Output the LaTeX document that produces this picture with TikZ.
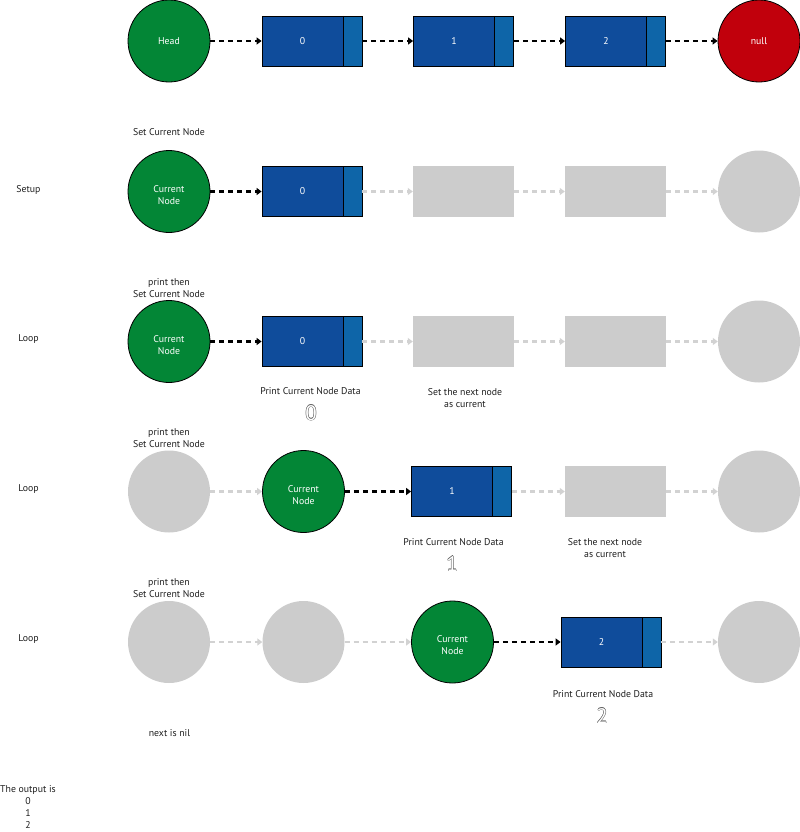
\documentclass[tikz,border=0pt]{standalone}
\usepackage{fontspec}
\setmainfont{PT Sans}
\usetikzlibrary{arrows.meta}
\definecolor{cgreen}{RGB}{3,134,54}
\definecolor{cdblue}{RGB}{15,76,155}
\definecolor{clblue}{RGB}{14,101,168}
\definecolor{cred}{RGB}{193,0,12}
\definecolor{cgrey}{RGB}{204,204,204}
\definecolor{carrgrey}{RGB}{210,210,210}
\definecolor{ctext}{RGB}{30,30,30}
\definecolor{coutl}{RGB}{90,90,90}
\newcommand\smallfnt{\fontsize{9.8bp}{12bp}\selectfont}
\newcommand\hollowdigit[1]{\fontsize{21bp}{21bp}\selectfont\leavevmode
 \rlap{\color{coutl}\kern-.5bp #1}\rlap{\color{coutl}\kern.5bp #1}%
 \rlap{\color{coutl}\raisebox{.5bp}{#1}}\rlap{\color{coutl}\raisebox{-.5bp}{#1}}%
 {\color{white}#1}}
\tikzset{
 lnode/.style={circle, minimum size=82bp, inner sep=0pt, text=white, align=center, font=\smallfnt},
 gcirc/.style={lnode, fill=cgrey},
 ccirc/.style={lnode, fill=cgreen, draw=black, line width=0.8bp},
 curcirc/.style={ccirc, label={[text=white, font=\smallfnt, align=center, inner sep=0pt, yshift=-3.5bp]center:{Current\\Node}}},
 rcirc/.style={lnode, fill=cred, draw=black, line width=0.8bp},
 bbox/.style={rectangle, minimum width=100bp, minimum height=50bp, inner sep=0pt,
   draw=black, line width=0.8bp, fill=cdblue, text=white, font=\smallfnt,
   execute at end node={\hspace*{19bp}},
   path picture={\fill[clblue] ([xshift=-19bp]path picture bounding box.north east) rectangle (path picture bounding box.south east);
     \draw[black,line width=0.8bp] ([xshift=-19bp]path picture bounding box.north east) -- ([xshift=-19bp]path picture bounding box.south east);}},
 gbox/.style={rectangle, minimum width=101bp, minimum height=51bp, inner sep=0pt, fill=cgrey},
 arr/.style={-{Triangle[length=5bp,width=7bp]}, dash pattern=on 5bp off 4bp, line width=2.8bp, black},
 garr/.style={arr, carrgrey},
 lbl/.style={text=ctext, font=\smallfnt, align=center, inner sep=0pt, yshift=-1.5bp},
 big/.style={inner sep=0pt},
}
\begin{document}
\begin{tikzpicture}[x=1bp,y=-1bp]
\useasboundingbox (0,0) rectangle (800,832);
% row 0
\node[ccirc] (h) at (169,41) {Head};
\node[bbox] (a0) at (312,41) {0};
\node[bbox] (a1) at (463.5,41) {1};
\node[bbox] (a2) at (615.5,41) {2};
\node[rcirc] (nl) at (759,41) {null};
\draw[arr] (h) -- (a0);
\draw[arr] (a0) -- (a1);
\draw[arr] (a1) -- (a2);
\draw[arr] (a2) -- (nl);
% row 1
\node[lbl] (t1) at (169,131) {Set Current Node};
\node[lbl] (s1) at (28.5,188) {Setup};
\node[curcirc] (c1) at (169,191.5) {};
\node[bbox] (b10) at (312,191.5) {0};
\node[gbox] (b11) at (463.5,191.5) {};
\node[gbox] (b12) at (615.5,191.5) {};
\node[gcirc] (b13) at (759,191.5) {};
\draw[arr] (c1) -- (b10);
\draw[garr] (b10) -- (b11);
\draw[garr] (b11) -- (b12);
\draw[garr] (b12) -- (b13);
% row 2
\node[lbl] (t2) at (169,287) {print then\\Set Current Node};
\node[lbl] (s2) at (28.5,338) {Loop};
\node[curcirc] (c2) at (169,341.5) {};
\node[bbox] (b20) at (312,341.5) {0};
\node[gbox] (b21) at (463.5,341.5) {};
\node[gbox] (b22) at (615.5,341.5) {};
\node[gcirc] (b23) at (759,341.5) {};
\draw[arr] (c2) -- (b20);
\draw[garr] (b20) -- (b21);
\draw[garr] (b21) -- (b22);
\draw[garr] (b22) -- (b23);
\node[lbl] (p2) at (310.5,390) {Print Current Node Data};
\node[big] (d2) at (311,413) {\hollowdigit{0}};
\node[lbl] (n2) at (465,397) {Set the next node\\as current};
% row 3
\node[lbl] (t3) at (169,437) {print then\\Set Current Node};
\node[lbl] (s3) at (28.5,488) {Loop};
\node[gcirc] (b30) at (169,491.5) {};
\node[curcirc] (c3) at (303.5,491.5) {};
\node[bbox] (b31) at (461.5,491.5) {1};
\node[gbox] (b32) at (615.5,491.5) {};
\node[gcirc] (b33) at (759,491.5) {};
\draw[garr] (b30) -- (c3);
\draw[arr] (c3) -- (b31);
\draw[garr] (b31) -- (b32);
\draw[garr] (b32) -- (b33);
\node[lbl] (p3) at (453.5,541) {Print Current Node Data};
\node[big] (d3) at (452,564) {\hollowdigit{1}};
\node[lbl] (n3) at (605,547) {Set the next node\\as current};
% row 4
\node[lbl] (t4) at (169,587) {print then\\Set Current Node};
\node[lbl] (s4) at (28.5,638) {Loop};
\node[gcirc] (b40) at (169,642) {};
\node[gcirc] (b41) at (303.5,642) {};
\node[curcirc] (c4) at (452.5,642) {};
\node[bbox] (b42) at (611,642) {2};
\node[gcirc] (b43) at (759,642) {};
\draw[garr] (b40) -- (b41);
\draw[garr] (b41) -- (c4);
\draw[arr] (c4) -- (b42);
\draw[garr] (b42) -- (b43);
\node[lbl] (p4) at (603,693) {Print Current Node Data};
\node[big] (d4) at (602,716) {\hollowdigit{2}};
% bottom
\node[lbl] (nil) at (169.5,732) {next is nil};
\node[lbl] (out) at (28,789) {The output is};
\node[lbl] (o0) at (28,800) {0};
\node[lbl] (o1) at (28,812) {1};
\node[lbl] (o2) at (28,824) {2};
\end{tikzpicture}
\end{document}
